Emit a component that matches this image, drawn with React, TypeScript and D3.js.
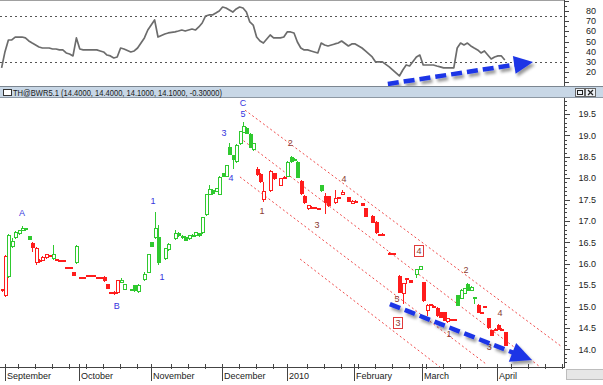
import React from 'react';
import * as d3 from 'd3';

// ---------- DATA ----------
// trading-day index of each candle (Sep 2009 .. Apr 2010)
const days = [
  0,1,2,3,4,5,6,7,8,9,10,11,12,13,14,15,16,17,18,19,20,21,22,
  23,24,25,26,27,28,29,30,31,32,33,34,35,36,38,39,40,42,43,
  44,45,46,48,49,51,52,53,54,55,56,57,58,59,60,61,62,63,64,
  65,66,67,68,69,70,71,72,73,74,75,76,77,79,80,82,83,
  84,85,86,87,88,89,90,91,92,93,94,95,96,98,99,100,102,103,
  104,106,107,109,110,111,112,114,115,117,118,119,120,122,123,
  124,125,126,127,128,129,130,131,132,133,134,135,136,137,138,139,140,141,142,143,144,145,
  146,147,148,
];
const opens = [
  15.40,15.27,15.72,16.42,16.62,16.72,16.80,16.83,16.64,16.48,16.04,16.10,16.10,16.15,16.20,16.14,16.12,16.09,16.08,15.93,15.92,15.80,16.04,
  15.70,15.69,15.72,15.74,15.73,15.70,15.68,15.70,15.52,15.35,15.32,15.34,15.58,15.41,15.40,15.50,15.36,15.64,15.81,
  16.51,16.63,16.63,16.14,16.35,16.60,16.72,16.62,16.63,16.60,16.66,16.67,16.72,16.74,17.16,17.63,17.72,17.70,17.63,
  18.12,18.05,18.73,18.54,18.40,18.82,19.08,19.17,19.03,18.68,18.22,18.10,17.51,17.72,18.12,17.84,18.03,
  18.05,18.50,18.45,18.38,17.93,17.58,17.30,17.33,17.33,17.31,17.84,17.58,17.58,17.44,17.56,17.63,17.56,17.42,
  17.47,17.42,17.30,17.12,16.98,16.69,16.68,16.26,16.25,15.71,15.32,15.66,15.62,15.76,15.88,
  15.57,14.92,15.06,15.02,14.97,14.87,14.87,14.66,14.71,14.71,15.27,15.20,15.32,15.53,15.39,15.22,15.04,14.85,15.01,14.73,14.45,14.47,
  14.57,14.48,14.40,
];
const highs = [
  15.42,16.20,16.70,16.60,16.76,16.80,16.88,16.84,16.65,16.50,16.40,16.12,16.18,16.23,16.21,16.45,16.12,16.09,16.08,15.93,15.92,15.80,16.43,
  15.70,15.70,15.75,15.75,15.74,15.70,15.68,15.71,15.53,15.35,15.36,15.62,15.66,15.53,15.42,15.51,15.52,15.81,16.24,
  16.52,17.21,16.91,16.38,16.48,16.78,16.74,16.67,16.64,16.68,16.69,16.75,16.73,17.10,17.64,17.84,17.74,17.78,18.04,
  18.13,18.32,18.82,18.55,18.79,19.11,19.31,19.20,19.05,18.83,18.26,18.11,17.91,18.19,18.13,18.01,18.04,
  18.40,18.52,18.47,18.40,17.95,17.60,17.38,17.34,17.33,17.31,17.85,17.65,17.59,17.72,17.57,17.72,17.57,17.48,
  17.48,17.43,17.31,17.13,16.99,16.70,16.71,16.27,16.26,15.73,15.56,15.66,15.63,15.89,15.96,
  15.58,15.05,15.07,15.03,14.98,14.88,14.88,14.74,14.72,14.72,15.28,15.40,15.44,15.54,15.47,15.23,15.05,14.88,15.02,14.74,14.46,14.49,
  14.60,14.49,14.40,
];
const lows = [
  15.36,15.25,15.70,16.40,16.60,16.70,16.78,16.80,16.57,16.30,16.00,16.05,16.08,16.14,16.18,16.12,16.08,16.07,16.06,15.91,15.90,15.73,16.03,
  15.68,15.68,15.71,15.73,15.71,15.68,15.66,15.60,15.43,15.33,15.30,15.32,15.57,15.40,15.39,15.37,15.35,15.63,15.80,
  16.41,16.60,15.99,16.12,16.33,16.58,16.66,16.60,16.55,16.59,16.65,16.66,16.66,16.72,17.15,17.62,17.64,17.69,17.62,
  18.04,18.04,18.56,18.24,18.39,18.80,19.07,19.05,18.72,18.67,18.08,17.92,17.47,17.70,17.99,17.83,18.01,
  18.04,18.39,18.43,18.02,17.63,17.43,17.29,17.32,17.31,17.29,17.71,17.19,17.36,17.43,17.55,17.62,17.46,17.41,
  17.44,17.37,17.11,16.97,16.73,16.67,16.67,16.24,16.24,15.33,15.08,15.56,15.57,15.69,15.87,
  15.14,14.80,15.04,15.00,14.79,14.75,14.68,14.65,14.70,14.69,15.03,15.19,15.31,15.38,15.38,15.08,14.87,14.84,14.99,14.51,14.33,14.46,
  14.47,14.46,14.10,
];
const closes = [
  15.38,16.18,16.67,16.53,16.74,16.79,16.84,16.81,16.58,16.40,16.37,16.08,16.17,16.22,16.19,16.22,16.10,16.08,16.07,15.92,15.91,15.74,16.42,
  15.68,15.68,15.74,15.73,15.71,15.68,15.66,15.62,15.44,15.34,15.35,15.61,15.62,15.52,15.41,15.38,15.51,15.76,16.23,
  16.42,16.84,16.04,16.37,16.46,16.72,16.67,16.66,16.56,16.67,16.68,16.74,16.67,17.09,17.63,17.75,17.65,17.77,18.03,
  18.05,18.31,18.57,18.45,18.78,19.10,19.22,19.06,18.73,18.82,18.10,17.94,17.70,18.17,18.00,18.00,18.02,
  18.38,18.40,18.46,18.03,17.65,17.44,17.37,17.33,17.32,17.30,17.72,17.44,17.37,17.54,17.56,17.68,17.47,17.47,
  17.45,17.38,17.12,16.98,16.74,16.68,16.70,16.25,16.25,15.34,15.55,15.65,15.58,15.88,15.95,
  15.15,15.04,15.05,15.01,14.80,14.76,14.69,14.73,14.71,14.70,15.04,15.39,15.43,15.39,15.46,15.21,14.88,14.87,15.00,14.52,14.34,14.48,
  14.48,14.47,14.10,
];
// trend colour of each candle: g = green, r = red
const trend = (
  'rrgggggggrrrrrrgrrrrrrg' +
  'rrrrrrrrrrrrggggggg' +
  'ggggggggggggggggggg' +
  'ggggggggggrrrrrrr' +
  'ggggrrrrrrgrrrrrrr' +
  'rrrrrrrrrrrrrgg' +
  'rrrrrrrrrrggggggrrrrrr' +
  'rrr'
).split('');
// oscillator in the upper pane, one value per candle
const oscillator = [
  24,40,51.5,51.5,54.4,54.4,54.4,53.5,50.5,48.5,46.6,44.6,43.6,43.6,43.6,42.6,42.6,41.7,41.7,38.7,37.7,35.8,53.5,
  42.6,41.7,41.7,41.7,41.7,41.7,40.7,39.7,36.7,35.8,33.8,34.8,43.6,42.6,39.7,40.7,43.6,53.5,61.3,
  66.2,71.2,54.4,57.4,58.4,59.4,60.3,61.3,60.3,61.3,62.3,61.3,64.3,68.2,75.1,76.1,76.1,78,80,
  83.9,82.9,81,79,82,83.9,82.9,79,69.2,66.2,54.4,50.5,48.5,56.4,53.5,53.5,54.4,
  59.4,59.4,58.4,49.5,43.6,41.7,41.7,40.7,39.7,38.7,48.5,46.6,45.6,47.6,48.5,50.5,45.6,47.6,
  47.6,43.6,40.7,34.8,29.9,29.9,29.9,25,22,16.1,22,26.9,25.9,34.8,36.7,
  26.9,26.9,26.9,26.9,25.9,25,24,24,24,24,43.6,48.5,46.6,48.5,45.6,43.6,41.7,38.7,40.7,36.7,32.8,34.8,
  35.8,35.8,31.8,
];

const monthLabels = ['September', 'October', 'November', 'December', '2010', 'February', 'March', 'April'];
const monthDays = [1.0, 22.8, 43.9, 64.8, 83.9, 103.6, 123.6, 145.7];

const priceTicks = [14.0, 14.5, 15.0, 15.5, 16.0, 16.5, 17.0, 17.5, 18.0, 18.5, 19.0, 19.5];
const oscTicks = [20, 30, 40, 50, 60, 70, 80];
const oscLevels = [75, 30];

// red dotted channel lines: start (day, price) -> end (day, price)
const channelStartDay = [71.6, 70.1, 70.1, 87.8];
const channelStartPrice = [19.59, 18.94, 18.03, 16.11];
const channelEndDay = [164.8, 158.4, 142.8, 128.9];
const channelEndPrice = [14.06, 13.59, 13.64, 13.59];

// wave labels
const waveText = ['A', 'B', '1', '1', '3', '4', '5', 'C', '1', '2', '3', '4', '5', '2', '4', '1', '3', '4', '3'];
const waveDay = [6.0, 33.9, 44.5, 47.2, 65.4, 67.5, 71.0, 71.0, 76.6, 84.9, 92.8, 100.7, 116.3, 136.6, 146.6, 131.6, 143.4, 122.8, 116.6];
const wavePrice = [17.19, 15.01, 17.47, 15.69, 19.06, 18.0, 19.5, 19.77, 17.23, 18.82, 16.91, 17.98, 15.18, 15.86, 14.85, 14.36, 14.06, 16.30, 14.62];
const waveKind = ['b', 'b', 'b', 'b', 'b', 'b', 'b', 'b', 'm', 'm', 'm', 'm', 'm', 'm', 'm', 'm', 'm', 'x', 'x'];

// blue trend arrows
const oscArrowDay = [113.6, 156.3];
const oscArrowValue = [8.2, 29.9];
const priceArrowDay = [114.2, 156.0];
const priceArrowPrice = [15.06, 13.75];

const headerText = 'TH@BWR5.1 (14.4000, 14.4000, 14.1000, 14.1000, -0.30000)';

// ---------- STYLE ----------
const FONT = 'Liberation Sans, Arial, sans-serif';
const GREEN = '#2fc92f';
const RED = '#ff1c1c';
const BLUE = '#1c34e6';
const BLUE_LBL = '#3535dd';
const BROWN = '#8a3a30';

function Arrow({ x0, y0, x1, y1, headLen, headW }: any) {
  const dx = x1 - x0, dy = y1 - y0;
  const len = Math.hypot(dx, dy);
  const ux = dx / len, uy = dy / len;
  const nx = -uy, ny = ux;
  const bx = x1 - ux * headLen, by = y1 - uy * headLen;
  return (
    <g filter="url(#shadow)">
      <line x1={x0} y1={y0} x2={bx + ux * 2} y2={by + uy * 2} stroke={BLUE} strokeWidth={4.5} strokeDasharray="11,5" />
      <polygon
        points={`${x1},${y1} ${bx + nx * headW},${by + ny * headW} ${bx - nx * headW},${by - ny * headW}`}
        fill={BLUE}
      />
    </g>
  );
}

export default function App() {
  const AX = 564; // right axis x
  const x = d3.scaleLinear().domain([0, 165]).range([1.6, 562.6]);
  const y = d3.scaleLinear().domain([14, 19.5]).range([349.4, 114]);
  const yo = d3.scaleLinear().domain([20, 80]).range([72, 11]);

  const oscLine = d3
    .line<number>()
    .x((_, i) => x(days[i]))
    .y((d) => yo(d))(oscillator) as string;

  const minorPrice = d3.range(137, 199).map((v) => v / 10).filter((v) => y(v) > 99 && y(v) < 366);
  const oscMinor = d3.range(10, 95, 5);
  const weekTicks = d3.range(4.8, 165, 5).filter((d) => monthDays.every((m) => Math.abs(m - d) > 1.2));

  const candles = days.map((d, i) => {
    const cx = Math.round(x(d));
    const o = opens[i], c = closes[i];
    const col = trend[i] === 'g' ? GREEN : RED;
    const top = Math.round(y(Math.max(o, c)));
    const bot = Math.round(y(Math.min(o, c)));
    const hollow = c >= o;
    return (
      <g key={i}>
        <line x1={cx + 0.5} x2={cx + 0.5} y1={Math.round(y(highs[i]))} y2={Math.round(y(lows[i])) + 1} stroke={col} strokeWidth={1} />
        <rect
          x={cx - 1}
          y={top}
          width={3}
          height={Math.max(1, bot - top)}
          fill={hollow ? '#ffffff' : col}
          stroke={col}
          strokeWidth={1}
        />
      </g>
    );
  });

  return (
    <svg
      width={603}
      height={385}
      style={{ position: 'fixed', left: 0, top: 0, background: '#fff' }}
      fontFamily={FONT}
    >
      <defs>
        <clipPath id="topClip">
          <rect x={0} y={0} width={AX} height={86} />
        </clipPath>
        <clipPath id="mainClip">
          <rect x={0} y={98} width={AX} height={269} />
        </clipPath>
        <filter id="shadow" x="-10%" y="-50%" width="130%" height="200%">
          <feDropShadow dx={2} dy={3} stdDeviation={1.6} floodColor="#000" floodOpacity={0.4} />
        </filter>
      </defs>
      <rect x={0} y={0} width={603} height={385} fill="#fff" />

      {/* ---------- upper oscillator pane ---------- */}
      <line x1={0} x2={AX} y1={0.5} y2={0.5} stroke="#a0a0a0" />
      <g clipPath="url(#topClip)">
        {oscLevels.map((v) => (
          <line key={v} x1={0} x2={AX} y1={Math.round(yo(v)) + 0.5} y2={Math.round(yo(v)) + 0.5} stroke="#555" strokeDasharray="2,3" />
        ))}
        <path d={oscLine} fill="none" stroke="#6c6c6c" strokeWidth={1.7} strokeLinejoin="round" />
        <Arrow
          x0={x(oscArrowDay[0])}
          y0={yo(oscArrowValue[0])}
          x1={x(oscArrowDay[1])}
          y1={yo(oscArrowValue[1])}
          headLen={19}
          headW={9}
        />
      </g>
      <line x1={AX + 0.5} x2={AX + 0.5} y1={0} y2={86} stroke="#444" />
      {oscMinor.map((v) => (
        <line key={v} x1={AX} x2={AX + (v % 10 === 0 ? 5 : 3)} y1={Math.round(yo(v)) + 0.5} y2={Math.round(yo(v)) + 0.5} stroke="#444" />
      ))}
      {oscTicks.map((v) => (
        <text key={v} x={596} y={yo(v)} dy="0.35em" textAnchor="end" fontSize={9} fill="#222">
          {v}
        </text>
      ))}

      {/* ---------- main price pane ---------- */}
      <g clipPath="url(#mainClip)">
        {channelStartDay.map((d, i) => (
          <line
            key={i}
            x1={x(d)}
            y1={y(channelStartPrice[i])}
            x2={x(channelEndDay[i])}
            y2={y(channelEndPrice[i])}
            stroke="#f04a4a"
            strokeWidth={1}
            strokeDasharray="2,2.5"
          />
        ))}
        <g shapeRendering="crispEdges">{candles}</g>
        {waveText.map((t, i) => {
          const cx = x(waveDay[i]);
          const cy = y(wavePrice[i]);
          if (waveKind[i] === 'x') {
            return (
              <g key={i}>
                <rect x={Math.round(cx) - 4.5} y={Math.round(cy) - 5.5} width={9} height={11} fill="#fff" stroke="#e03a3a" strokeWidth={1} />
                <text x={cx} y={cy} dy="0.35em" textAnchor="middle" fontSize={9} fill={BROWN}>
                  {t}
                </text>
              </g>
            );
          }
          return (
            <text key={i} x={cx} y={cy} dy="0.35em" textAnchor="middle" fontSize={9} fill={waveKind[i] === 'b' ? BLUE_LBL : BROWN}>
              {t}
            </text>
          );
        })}
        <Arrow
          x0={x(priceArrowDay[0])}
          y0={y(priceArrowPrice[0])}
          x1={x(priceArrowDay[1])}
          y1={y(priceArrowPrice[1])}
          headLen={21}
          headW={10}
        />
      </g>

      {/* right price axis */}
      <line x1={AX + 0.5} x2={AX + 0.5} y1={98} y2={367} stroke="#444" />
      {minorPrice.map((v) => (
        <line key={v} x1={AX} x2={AX + 3} y1={Math.round(y(v)) + 0.5} y2={Math.round(y(v)) + 0.5} stroke="#444" />
      ))}
      {priceTicks.map((v) => (
        <g key={v}>
          <line x1={AX} x2={AX + 6} y1={Math.round(y(v)) + 0.5} y2={Math.round(y(v)) + 0.5} stroke="#444" />
          <text x={596} y={y(v)} dy="0.35em" textAnchor="end" fontSize={9} fill="#222">
            {v.toFixed(1)}
          </text>
        </g>
      ))}

      {/* bottom date axis */}
      <line x1={0} x2={AX + 1} y1={367.5} y2={367.5} stroke="#444" />
      {weekTicks.map((d) => (
        <line key={d} x1={Math.round(x(d)) + 0.5} x2={Math.round(x(d)) + 0.5} y1={364} y2={369} stroke="#444" />
      ))}
      {monthDays.map((d, i) => (
        <g key={i}>
          <line x1={Math.round(x(d)) + 0.5} x2={Math.round(x(d)) + 0.5} y1={364} y2={381} stroke="#444" />
          <text x={Math.round(x(d)) + 2} y={378.5} fontSize={9} fill="#222">
            {monthLabels[i]}
          </text>
        </g>
      ))}
      <rect x={566.5} y={369.5} width={37} height={10} fill="#e6e6e6" stroke="#bdbdbd" />

      {/* header bar of the price pane */}
      <rect x={0} y={86} width={603} height={12} fill="#c8d7e6" />
      <line x1={0} x2={603} y1={86.5} y2={86.5} stroke="#7c8690" />
      <line x1={0} x2={603} y1={97.5} y2={97.5} stroke="#8d98a3" />
      <rect x={3.5} y={89.5} width={8} height={6} fill="#fff" stroke="#333" />
      <text x={13} y={95.5} fontSize={9} fill="#1a1a1a" textLength={209} lengthAdjust="spacingAndGlyphs">
        {headerText}
      </text>
      <rect x={575.5} y={88.5} width={9} height={8} fill="#eef2f6" stroke="#666" />
      <rect x={577.5} y={90.5} width={5} height={4} fill="none" stroke="#222" />
      <rect x={585.5} y={88.5} width={10} height={8} fill="#eef2f6" stroke="#666" />
      <line x1={588} y1={90} x2={593} y2={95} stroke="#222" strokeWidth={1.2} />
      <line x1={593} y1={90} x2={588} y2={95} stroke="#222" strokeWidth={1.2} />
    </svg>
  );
}
